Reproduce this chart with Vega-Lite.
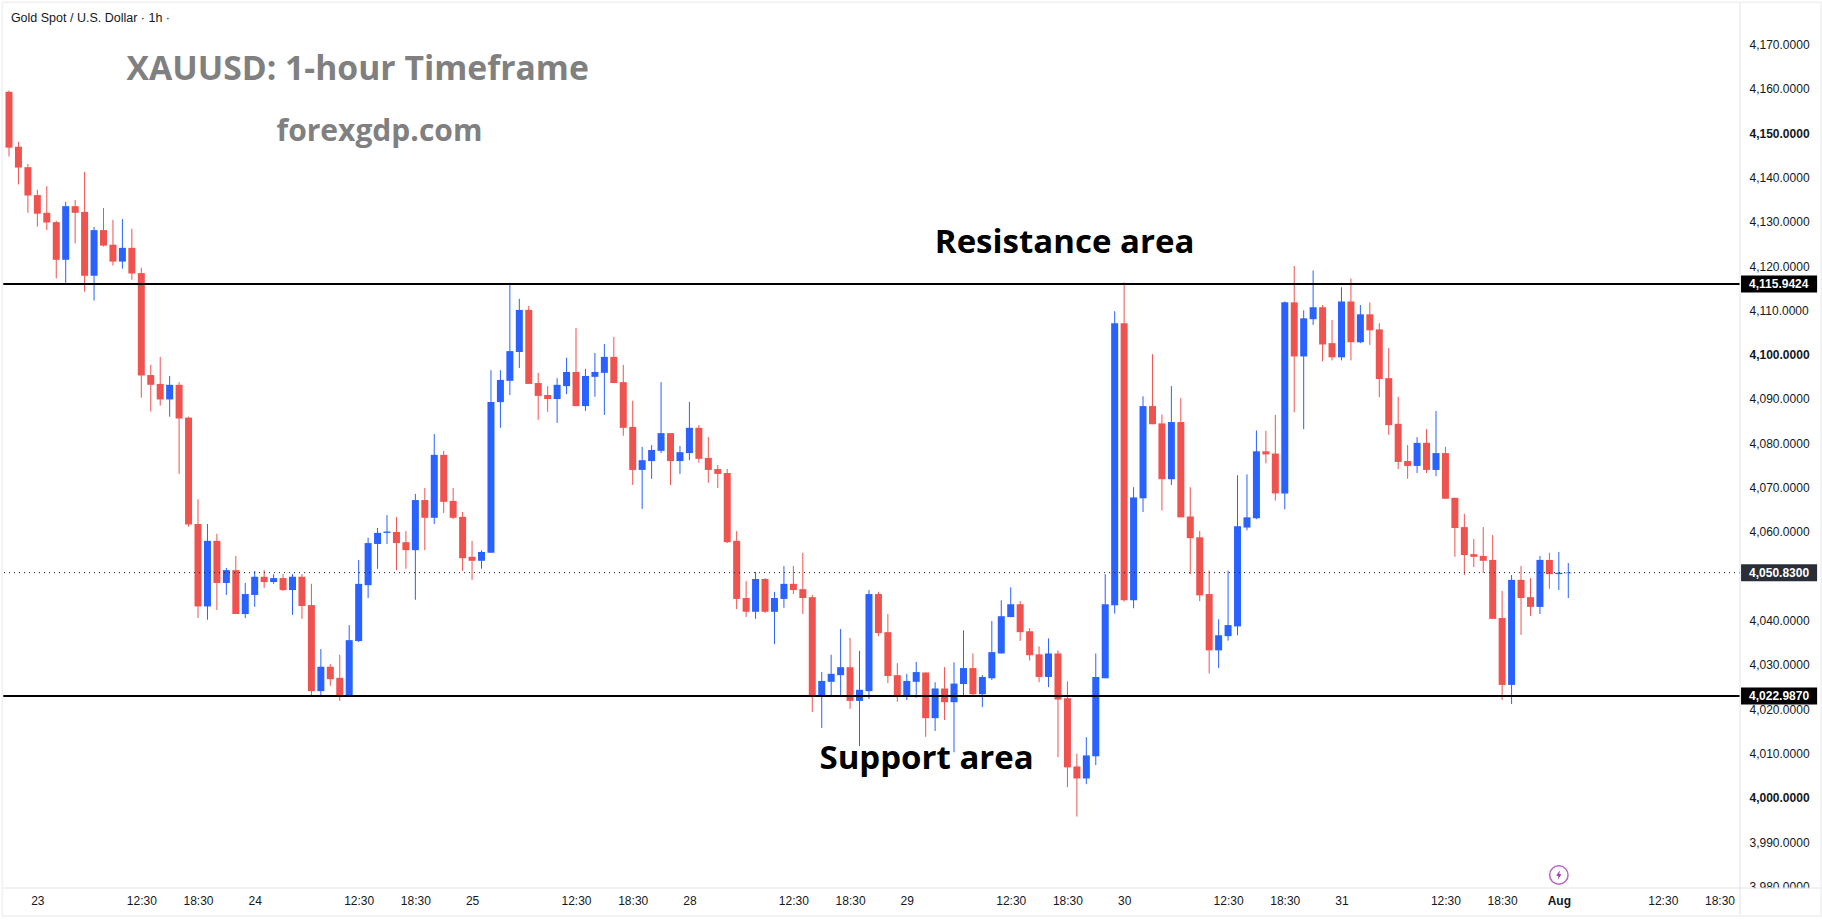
{
  "$schema": "https://vega.github.io/schema/vega-lite/v6.json",
  "description": "XAUUSD 1-hour candles with support and resistance",
  "width": 1737,
  "height": 885,
  "autosize": "none",
  "padding": {"left": 3, "top": 3, "right": 82, "bottom": 33},
  "background": "white",
  "config": {"view": {"stroke": null}},
  "datasets": {
    "candles": [
      {"bar":0,"open":4159.3,"high":4159.6,"low":4144.7,"close":4146.7},
      {"bar":1,"open":4146.9,"high":4148,"low":4138.4,"close":4142.2},
      {"bar":2,"open":4142.3,"high":4143,"low":4132,"close":4135.9},
      {"bar":3,"open":4136,"high":4137.2,"low":4128.9,"close":4131.8},
      {"bar":4,"open":4132,"high":4138,"low":4128.1,"close":4129.8},
      {"bar":5,"open":4129.9,"high":4130.2,"low":4117.2,"close":4121.4},
      {"bar":6,"open":4121.4,"high":4134.5,"low":4116.2,"close":4133.5},
      {"bar":7,"open":4133.5,"high":4134.9,"low":4125.1,"close":4132},
      {"bar":8,"open":4132.2,"high":4141.2,"low":4114.2,"close":4117.8},
      {"bar":9,"open":4117.8,"high":4128.8,"low":4112.2,"close":4128.1},
      {"bar":10,"open":4128.1,"high":4133.1,"low":4124.4,"close":4124.6},
      {"bar":11,"open":4124.8,"high":4130.4,"low":4120.1,"close":4121},
      {"bar":12,"open":4121,"high":4130.6,"low":4119.4,"close":4124.1},
      {"bar":13,"open":4124.1,"high":4128.4,"low":4116.9,"close":4118.3},
      {"bar":14,"open":4118.4,"high":4119.6,"low":4090.3,"close":4095.3},
      {"bar":15,"open":4095.4,"high":4097.7,"low":4087.2,"close":4093.2},
      {"bar":16,"open":4093.4,"high":4099.5,"low":4088.5,"close":4089.9},
      {"bar":17,"open":4089.9,"high":4095.2,"low":4086,"close":4093.2},
      {"bar":18,"open":4093.2,"high":4093.8,"low":4073.1,"close":4085.6},
      {"bar":19,"open":4085.8,"high":4086,"low":4061.2,"close":4061.7},
      {"bar":20,"open":4061.8,"high":4067.4,"low":4040.6,"close":4043.2},
      {"bar":21,"open":4043.2,"high":4061.8,"low":4040.2,"close":4058},
      {"bar":22,"open":4058,"high":4059.6,"low":4042.4,"close":4048.5},
      {"bar":23,"open":4048.5,"high":4051.9,"low":4045.8,"close":4051.4},
      {"bar":24,"open":4051.4,"high":4054.6,"low":4041.5,"close":4041.5},
      {"bar":25,"open":4041.5,"high":4048.5,"low":4040.6,"close":4046},
      {"bar":26,"open":4045.8,"high":4051.2,"low":4043.1,"close":4049.9},
      {"bar":27,"open":4049.9,"high":4051.4,"low":4047.4,"close":4048.7},
      {"bar":28,"open":4048.7,"high":4050.5,"low":4048.3,"close":4049.6},
      {"bar":29,"open":4049.6,"high":4050.5,"low":4046.7,"close":4046.9},
      {"bar":30,"open":4046.9,"high":4050.5,"low":4041.3,"close":4049.9},
      {"bar":31,"open":4049.9,"high":4050.5,"low":4040.4,"close":4043.3},
      {"bar":32,"open":4043.5,"high":4048.3,"low":4023,"close":4024.1},
      {"bar":33,"open":4024.1,"high":4033.6,"low":4023,"close":4029.6},
      {"bar":34,"open":4029.6,"high":4030.2,"low":4025.3,"close":4026.8},
      {"bar":35,"open":4027.1,"high":4032.3,"low":4021.9,"close":4022.8},
      {"bar":36,"open":4022.8,"high":4039,"low":4022.8,"close":4035.6},
      {"bar":37,"open":4035.4,"high":4053.7,"low":4035.2,"close":4048.3},
      {"bar":38,"open":4048,"high":4058.7,"low":4045.1,"close":4057.5},
      {"bar":39,"open":4057.3,"high":4060.9,"low":4051.7,"close":4059.8},
      {"bar":40,"open":4059.8,"high":4063.8,"low":4057.3,"close":4060.1},
      {"bar":41,"open":4060,"high":4063.4,"low":4051.4,"close":4057.5},
      {"bar":42,"open":4057.7,"high":4060.2,"low":4051.7,"close":4055.9},
      {"bar":43,"open":4055.9,"high":4068.6,"low":4044.7,"close":4067.2},
      {"bar":44,"open":4067.2,"high":4069.9,"low":4055.9,"close":4063.2},
      {"bar":45,"open":4063.2,"high":4082.1,"low":4061.8,"close":4077.4},
      {"bar":46,"open":4077.4,"high":4078.3,"low":4064.3,"close":4066.8},
      {"bar":47,"open":4067,"high":4069.9,"low":4062.9,"close":4063.2},
      {"bar":48,"open":4063.4,"high":4064.5,"low":4051.2,"close":4054.1},
      {"bar":49,"open":4054.4,"high":4058,"low":4049.2,"close":4053.5},
      {"bar":50,"open":4053.5,"high":4055.9,"low":4051.7,"close":4055.5},
      {"bar":51,"open":4055.3,"high":4096.5,"low":4055.3,"close":4089.3},
      {"bar":52,"open":4089.3,"high":4096.5,"low":4083.5,"close":4094.3},
      {"bar":53,"open":4094.1,"high":4116.2,"low":4090.9,"close":4100.8},
      {"bar":54,"open":4100.6,"high":4112.6,"low":4097,"close":4110.1},
      {"bar":55,"open":4110.1,"high":4111,"low":4093.4,"close":4093.4},
      {"bar":56,"open":4093.6,"high":4095.9,"low":4085.3,"close":4090.7},
      {"bar":57,"open":4090.9,"high":4092.9,"low":4087.1,"close":4090},
      {"bar":58,"open":4090,"high":4094.7,"low":4084.6,"close":4093.2},
      {"bar":59,"open":4092.9,"high":4099.3,"low":4091.1,"close":4096.1},
      {"bar":60,"open":4096.1,"high":4106,"low":4088.4,"close":4088.4},
      {"bar":61,"open":4088.4,"high":4096.8,"low":4087.3,"close":4095.2},
      {"bar":62,"open":4095,"high":4100.4,"low":4090.5,"close":4096.1},
      {"bar":63,"open":4095.9,"high":4102.4,"low":4086.4,"close":4099.5},
      {"bar":64,"open":4099.5,"high":4104,"low":4093.6,"close":4093.6},
      {"bar":65,"open":4093.8,"high":4097.7,"low":4081.7,"close":4083.5},
      {"bar":66,"open":4083.7,"high":4089.6,"low":4070.6,"close":4074},
      {"bar":67,"open":4074,"high":4079.2,"low":4065.2,"close":4076.2},
      {"bar":68,"open":4076,"high":4079.6,"low":4072,"close":4078.5},
      {"bar":69,"open":4078.3,"high":4093.8,"low":4077.8,"close":4082.3},
      {"bar":70,"open":4082.3,"high":4082.3,"low":4070.6,"close":4076},
      {"bar":71,"open":4076,"high":4079.4,"low":4073.1,"close":4078},
      {"bar":72,"open":4077.8,"high":4089.3,"low":4076.2,"close":4083.5},
      {"bar":73,"open":4083.5,"high":4084.1,"low":4075.6,"close":4076.5},
      {"bar":74,"open":4076.7,"high":4081.4,"low":4071.1,"close":4074},
      {"bar":75,"open":4074.2,"high":4075.1,"low":4069.9,"close":4073.1},
      {"bar":76,"open":4073.3,"high":4074.2,"low":4057.5,"close":4057.7},
      {"bar":77,"open":4058,"high":4060.2,"low":4042.6,"close":4044.9},
      {"bar":78,"open":4045.1,"high":4048.9,"low":4040.8,"close":4042},
      {"bar":79,"open":4042,"high":4051,"low":4040.4,"close":4049.4},
      {"bar":80,"open":4049.4,"high":4049.6,"low":4041.7,"close":4042},
      {"bar":81,"open":4042,"high":4046.5,"low":4034.7,"close":4045.1},
      {"bar":82,"open":4044.9,"high":4052.3,"low":4042.9,"close":4048.3},
      {"bar":83,"open":4048.3,"high":4052.3,"low":4046,"close":4046.9},
      {"bar":84,"open":4047.1,"high":4055.3,"low":4041.5,"close":4045.1},
      {"bar":85,"open":4045.3,"high":4045.8,"low":4019.4,"close":4023.2},
      {"bar":86,"open":4023.2,"high":4028.4,"low":4015.8,"close":4026.4},
      {"bar":87,"open":4026.2,"high":4032.3,"low":4023.2,"close":4028},
      {"bar":88,"open":4027.7,"high":4038.1,"low":4023,"close":4029.5},
      {"bar":89,"open":4029.5,"high":4036.1,"low":4020.1,"close":4021.9},
      {"bar":90,"open":4021.9,"high":4033.2,"low":4011.7,"close":4024.4},
      {"bar":91,"open":4024.1,"high":4046.9,"low":4022.3,"close":4046},
      {"bar":92,"open":4046,"high":4046.5,"low":4036.5,"close":4037.2},
      {"bar":93,"open":4037.4,"high":4041.5,"low":4025.9,"close":4027.5},
      {"bar":94,"open":4027.7,"high":4030.4,"low":4021.7,"close":4022.8},
      {"bar":95,"open":4022.8,"high":4028,"low":4022.1,"close":4026.4},
      {"bar":96,"open":4026.2,"high":4030.7,"low":4022.6,"close":4028.4},
      {"bar":97,"open":4028.3,"high":4028.3,"low":4013.8,"close":4018},
      {"bar":98,"open":4018,"high":4026.1,"low":4015.1,"close":4024.7},
      {"bar":99,"open":4024.7,"high":4029.5,"low":4017.6,"close":4021.6},
      {"bar":100,"open":4021.6,"high":4030.6,"low":4010.3,"close":4025.8},
      {"bar":101,"open":4025.7,"high":4037.8,"low":4023.1,"close":4029.3},
      {"bar":102,"open":4029.3,"high":4032.6,"low":4023.2,"close":4023.4},
      {"bar":103,"open":4023.4,"high":4027.7,"low":4020.5,"close":4027.3},
      {"bar":104,"open":4027,"high":4039.9,"low":4026.6,"close":4032.9},
      {"bar":105,"open":4032.6,"high":4044.6,"low":4032.6,"close":4041},
      {"bar":106,"open":4040.8,"high":4047.5,"low":4040.8,"close":4043.7},
      {"bar":107,"open":4043.7,"high":4044.4,"low":4035.4,"close":4037.4},
      {"bar":108,"open":4037.6,"high":4038.3,"low":4031,"close":4032.2},
      {"bar":109,"open":4032.4,"high":4034.2,"low":4026.1,"close":4027.3},
      {"bar":110,"open":4027.3,"high":4036,"low":4025,"close":4032.6},
      {"bar":111,"open":4032.6,"high":4033.3,"low":4009.2,"close":4022.2},
      {"bar":112,"open":4022.5,"high":4026.3,"low":4002.4,"close":4006.9},
      {"bar":113,"open":4007.1,"high":4010,"low":3995.8,"close":4004.4},
      {"bar":114,"open":4004.4,"high":4013.7,"low":4003.1,"close":4009.6},
      {"bar":115,"open":4009.4,"high":4032.6,"low":4007.4,"close":4027.3},
      {"bar":116,"open":4027,"high":4050.5,"low":4027,"close":4043.7},
      {"bar":117,"open":4043.5,"high":4109.8,"low":4041.6,"close":4107.1},
      {"bar":118,"open":4107.1,"high":4116.3,"low":4044.3,"close":4044.6},
      {"bar":119,"open":4044.6,"high":4070.1,"low":4042.8,"close":4067.8},
      {"bar":120,"open":4067.6,"high":4090.6,"low":4064.5,"close":4088.4},
      {"bar":121,"open":4088.4,"high":4100.1,"low":4084.3,"close":4084.3},
      {"bar":122,"open":4084.5,"high":4086.5,"low":4064.9,"close":4071.9},
      {"bar":123,"open":4071.9,"high":4092.9,"low":4070.6,"close":4084.8},
      {"bar":124,"open":4084.8,"high":4090.2,"low":4063.3,"close":4063.3},
      {"bar":125,"open":4063.5,"high":4070.1,"low":4050.5,"close":4058.6},
      {"bar":126,"open":4058.8,"high":4060.2,"low":4044.4,"close":4045.7},
      {"bar":127,"open":4046,"high":4051.3,"low":4028.1,"close":4033.3},
      {"bar":128,"open":4033.3,"high":4040.3,"low":4029.3,"close":4036.7},
      {"bar":129,"open":4036.5,"high":4051.3,"low":4035.5,"close":4039},
      {"bar":130,"open":4038.7,"high":4072.8,"low":4036.7,"close":4061.3},
      {"bar":131,"open":4061,"high":4073,"low":4060.4,"close":4063.3},
      {"bar":132,"open":4063.1,"high":4082.9,"low":4062.9,"close":4078.2},
      {"bar":133,"open":4078.2,"high":4082.8,"low":4075.5,"close":4077.5},
      {"bar":134,"open":4077.7,"high":4086.4,"low":4067.1,"close":4068.7},
      {"bar":135,"open":4068.7,"high":4112,"low":4065.1,"close":4111.8},
      {"bar":136,"open":4111.8,"high":4120,"low":4087,"close":4099.6},
      {"bar":137,"open":4099.6,"high":4110,"low":4083.2,"close":4108.2},
      {"bar":138,"open":4108,"high":4119,"low":4106.7,"close":4110.7},
      {"bar":139,"open":4110.7,"high":4111.2,"low":4098.5,"close":4102.3},
      {"bar":140,"open":4102.6,"high":4107.8,"low":4098.7,"close":4099.4},
      {"bar":141,"open":4099.4,"high":4115.2,"low":4098.7,"close":4112},
      {"bar":142,"open":4112,"high":4117.2,"low":4098.7,"close":4102.8},
      {"bar":143,"open":4102.8,"high":4111.2,"low":4102.6,"close":4109.1},
      {"bar":144,"open":4109.1,"high":4111.8,"low":4102.2,"close":4105.5},
      {"bar":145,"open":4105.7,"high":4107.1,"low":4090.4,"close":4094.5},
      {"bar":146,"open":4094.7,"high":4101.5,"low":4081.9,"close":4084.1},
      {"bar":147,"open":4084.4,"high":4090.5,"low":4074.2,"close":4075.8},
      {"bar":148,"open":4076,"high":4079.6,"low":4072,"close":4074.9},
      {"bar":149,"open":4074.9,"high":4081.4,"low":4073.3,"close":4080.1},
      {"bar":150,"open":4080.1,"high":4083.2,"low":4073.3,"close":4074},
      {"bar":151,"open":4074,"high":4087.3,"low":4072.6,"close":4077.8},
      {"bar":152,"open":4077.8,"high":4079.2,"low":4067.5,"close":4067.5},
      {"bar":153,"open":4067.7,"high":4067.7,"low":4054.4,"close":4060.9},
      {"bar":154,"open":4061.1,"high":4064.1,"low":4050.3,"close":4054.8},
      {"bar":155,"open":4055,"high":4058.4,"low":4052.1,"close":4054.4},
      {"bar":156,"open":4054.6,"high":4061.1,"low":4050.8,"close":4053.5},
      {"bar":157,"open":4053.7,"high":4059.3,"low":4040.4,"close":4040.4},
      {"bar":158,"open":4040.6,"high":4046.7,"low":4022.1,"close":4025.5},
      {"bar":159,"open":4025.5,"high":4050.3,"low":4021.2,"close":4049.2},
      {"bar":160,"open":4049.2,"high":4052.3,"low":4036.8,"close":4045.1},
      {"bar":161,"open":4045.3,"high":4049.6,"low":4041.1,"close":4043.1},
      {"bar":162,"open":4043.1,"high":4054.6,"low":4041.5,"close":4053.7},
      {"bar":163,"open":4053.7,"high":4055.3,"low":4047.2,"close":4050.5},
      {"bar":164,"open":4050.5,"high":4055.5,"low":4046.9,"close":4050.8},
      {"bar":165,"open":4050.7,"high":4053,"low":4045.1,"close":4050.83}
    ],
    "levels": [
      {"price":4115.9424,"label":"4,115.9424","kind":"zone"},
      {"price":4022.987,"label":"4,022.9870","kind":"zone"},
      {"price":4050.83,"label":"4,050.8300","kind":"last"}
    ]
  },
  "layer": [
    {
      "data": {"name": "candles"},
      "mark": {"type": "rule", "strokeWidth": 1},
      "encoding": {
        "x": {
          "field": "bar",
          "type": "quantitative",
          "title": null,
          "scale": {"domain": [-0.635, 183.17], "nice": false, "zero": false, "padding": 0},
          "axis": {
            "values": [3,14,20,26,37,43,49,60,66,72,83,89,95,106,112,118,129,135,141,152,158,164,175,181],
            "labelExpr": "{'3':'23','14':'12:30','20':'18:30','26':'24','37':'12:30','43':'18:30','49':'25','60':'12:30','66':'18:30','72':'28','83':'12:30','89':'18:30','95':'29','106':'12:30','112':'18:30','118':'30','129':'12:30','135':'18:30','141':'31','152':'12:30','158':'18:30','164':'Aug','175':'12:30','181':'18:30'}[datum.value]",
            "grid": false,
            "domain": false,
            "ticks": false,
            "labelPadding": 7,
            "labelFont": "Liberation Sans",
            "labelFontSize": 12,
            "labelColor": "#131722",
            "labelAngle": 0,
            "labelOverlap": false,
            "labelFontWeight": {"condition": {"test": "datum.value === 164", "value": "bold"}, "value": "normal"}
          }
        },
        "y": {
          "field": "low",
          "type": "quantitative",
          "title": null,
          "scale": {"domain": [3979.69, 4179.33], "nice": false, "zero": false},
          "axis": {
            "orient": "right",
            "values": [3980,3990,4000,4010,4020,4030,4040,4060,4070,4080,4090,4100,4110,4120,4130,4140,4150,4160,4170],
            "format": ",.4f",
            "grid": false,
            "domain": false,
            "ticks": false,
            "labelPadding": 9,
            "labelFont": "Liberation Sans",
            "labelFontSize": 12,
            "labelColor": "#131722",
            "labelOverlap": false,
            "labelFontWeight": {"condition": {"test": "datum.value % 50 === 0", "value": "bold"}, "value": "normal"}
          }
        },
        "y2": {"field": "high"},
        "color": {"condition": {"test": "datum.close >= datum.open", "value": "#2962ff"}, "value": "#ef5350"}
      }
    },
    {
      "data": {"name": "candles"},
      "mark": {"type": "bar", "size": 7, "orient": "vertical"},
      "encoding": {
        "x": {"field": "bar", "type": "quantitative"},
        "y": {"field": "open", "type": "quantitative"},
        "y2": {"field": "close"},
        "color": {"condition": {"test": "datum.close >= datum.open", "value": "#2962ff"}, "value": "#ef5350"}
      }
    },
    {
      "data": {"name": "levels"},
      "transform": [{"filter": "datum.kind === 'zone'"}],
      "mark": {"type": "rule", "strokeWidth": 2, "color": "black"},
      "encoding": {"y": {"field": "price", "type": "quantitative"}}
    },
    {
      "data": {"name": "levels"},
      "transform": [{"filter": "datum.kind === 'last'"}],
      "mark": {"type": "rule", "strokeWidth": 1, "color": "#131722", "strokeDash": [1, 4]},
      "encoding": {"y": {"field": "price", "type": "quantitative"}}
    },
    {
      "data": {"values": [{}]},
      "mark": {"type": "rule", "strokeWidth": 27, "color": "white"},
      "encoding": {
        "x": {"datum": 183.2},
        "x2": {"datum": 191.6},
        "y": {"datum": 3976.6}
      }
    },
    {
      "data": {"values": [{}]},
      "mark": {"type": "rule", "strokeWidth": 1, "color": "#e0e3eb"},
      "encoding": {
        "x": {"datum": 183.17},
        "y": {"datum": 4179.33},
        "y2": {"datum": 3973.37}
      }
    },
    {
      "data": {"values": [{}]},
      "mark": {"type": "rule", "strokeWidth": 1, "color": "#e0e3eb"},
      "encoding": {
        "x": {"datum": -0.635},
        "x2": {"datum": 191.75},
        "y": {"datum": 3979.69}
      }
    },
    {
      "data": {"values": [{}]},
      "mark": {"type": "rect", "filled": false, "stroke": "#f2f3f5", "strokeWidth": 2},
      "encoding": {
        "x": {"datum": -0.709},
        "x2": {"datum": 191.75},
        "y": {"datum": 4179.49},
        "y2": {"datum": 3973.37}
      }
    },
    {
      "data": {"name": "levels"},
      "mark": {"type": "rule", "strokeWidth": 17},
      "encoding": {
        "x": {"datum": 183.28},
        "x2": {"datum": 191.33},
        "y": {"field": "price", "type": "quantitative"},
        "color": {
          "field": "kind",
          "type": "nominal",
          "scale": {"domain": ["zone", "last"], "range": ["#000000", "#2a2e39"]},
          "legend": null
        }
      }
    },
    {
      "data": {"name": "levels"},
      "mark": {"type": "text", "align": "left", "baseline": "middle", "color": "white", "font": "Liberation Sans", "fontSize": 12, "fontWeight": "bold"},
      "encoding": {
        "x": {"datum": 184.13},
        "y": {"field": "price", "type": "quantitative"},
        "text": {"field": "label"}
      }
    },
    {
      "data": {"values": [{"bar": 164, "price": 3982.62}]},
      "mark": {"type": "point", "filled": false, "size": 340, "color": "#9c27b0", "strokeWidth": 1.5},
      "encoding": {
        "x": {"field": "bar", "type": "quantitative"},
        "y": {"field": "price", "type": "quantitative"}
      }
    },
    {
      "data": {"values": [{"bar": 164, "price": 3982.62}]},
      "mark": {"type": "point", "filled": true, "size": 90, "opacity": 1, "color": "#9c27b0", "shape": "M0.25,-1 L-0.55,0.15 L-0.05,0.15 L-0.25,1 L0.55,-0.15 L0.05,-0.15 Z"},
      "encoding": {
        "x": {"field": "bar", "type": "quantitative"},
        "y": {"field": "price", "type": "quantitative"}
      }
    },
    {
      "data": {"values": [{"bar": 0.2, "price": 4175.9, "note": "Gold Spot / U.S. Dollar · 1h ·"}]},
      "mark": {"type": "text", "align": "left", "baseline": "middle", "font": "Liberation Sans", "fontSize": 12.5, "color": "#131722"},
      "encoding": {
        "x": {"field": "bar", "type": "quantitative"},
        "y": {"field": "price", "type": "quantitative"},
        "text": {"field": "note"}
      }
    },
    {
      "data": {"values": [{"bar": 36.9, "price": 4164.2, "note": "XAUUSD: 1-hour Timeframe"}]},
      "mark": {"type": "text", "align": "center", "baseline": "middle", "font": "Open Sans", "fontSize": 33.7, "fontWeight": "bold", "color": "#808080"},
      "encoding": {
        "x": {"field": "bar", "type": "quantitative"},
        "y": {"field": "price", "type": "quantitative"},
        "text": {"field": "note"}
      }
    },
    {
      "data": {"values": [{"bar": 39.2, "price": 4150.3, "note": "forexgdp.com"}]},
      "mark": {"type": "text", "align": "center", "baseline": "middle", "font": "Open Sans", "fontSize": 30, "fontWeight": "bold", "color": "#808080"},
      "encoding": {
        "x": {"field": "bar", "type": "quantitative"},
        "y": {"field": "price", "type": "quantitative"},
        "text": {"field": "note"}
      }
    },
    {
      "data": {"values": [
        {"bar": 111.7, "price": 4125.1, "note": "Resistance area"},
        {"bar": 97.1, "price": 4008.7, "note": "Support area"}
      ]},
      "mark": {"type": "text", "align": "center", "baseline": "middle", "font": "Open Sans", "fontSize": 33, "fontWeight": "bold", "color": "black"},
      "encoding": {
        "x": {"field": "bar", "type": "quantitative"},
        "y": {"field": "price", "type": "quantitative"},
        "text": {"field": "note"}
      }
    }
  ]
}
